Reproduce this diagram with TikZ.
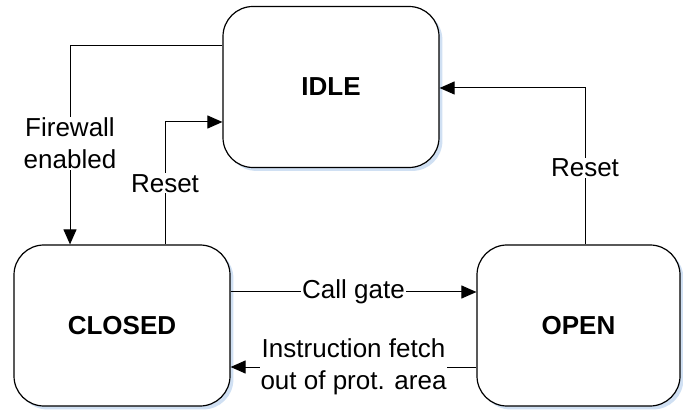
\documentclass[tikz,border=0pt]{standalone}
\usepackage{fontspec}
\setmainfont{Liberation Sans}
\usetikzlibrary{arrows.meta,calc,shadows}
\definecolor{shadowblue}{RGB}{208,224,243}

\begin{document}
\begin{tikzpicture}[x=0.5pt,y=-0.5pt,
    state/.style={draw, line width=0.6pt, rounded corners=15pt, fill=white,
      minimum width=108pt, minimum height=80.5pt,
      font=\fontsize{13}{16}\selectfont\bfseries,
      drop shadow={shadow xshift=1.7pt, shadow yshift=-1.7pt, fill=shadowblue, opacity=1}},
    trans/.style={line width=0.5pt, -{Triangle[length=7.5pt,width=6.5pt]}},
    lbl/.style={fill=white, inner sep=0.5pt, align=center,
      font=\fontsize{13}{16}\selectfont}]

    \useasboundingbox (0,0) rectangle (683,410);

    \node[state] (idle) at (331,87) {IDLE};
    \node[state] (closed) at (122,325.5) {CLOSED};
    \node[state, minimum width=101.5pt] (open) at (578.5,325.5) {OPEN};

    \draw[trans] ($(idle.west)+(0,-41)$) -| ($(closed.north)+(-52,0)$)
        node[lbl, pos=0.745] {Firewall\\enabled};
    \draw[trans] ($(closed.north)+(43,0)$) |- ($(idle.west)+(0,35)$)
        node[lbl, pos=0.25] {Reset};
    \draw[trans] ($(open.north)+(6.5,0)$) |- ($(idle.east)+(0,1)$)
        node[lbl, pos=0.245] {Reset};
    \draw[trans] ($(closed.east)+(0,-33.5)$) -- ($(open.west)+(0,-33.5)$)
        node[lbl, pos=0.5] {Call gate};
    \draw[trans] ($(open.west)+(0,41.5)$) -- ($(closed.east)+(0,41.5)$)
        node[lbl, pos=0.5] {Instruction fetch\\out of prot. area};

\end{tikzpicture}
\end{document}
